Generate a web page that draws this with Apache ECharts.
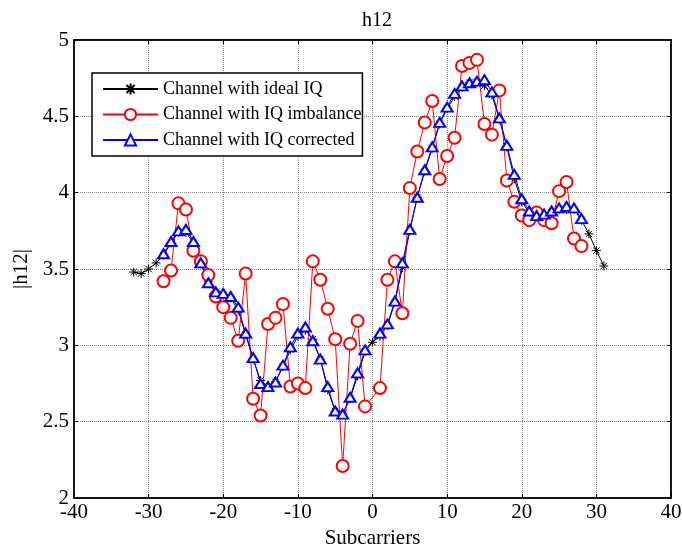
<!DOCTYPE html>
<html>
<head>
<meta charset="utf-8">
<script src="https://cdn.jsdelivr.net/npm/echarts@6/dist/echarts.min.js"></script>
<style>html,body{margin:0;padding:0;background:#fff;}#c{width:682px;height:548px;}</style>
</head>
<body>
<div id="c"></div>
<script>
const xIdeal = [-32,-31,-30,-29,-28,-27,-26,-25,-24,-23,-22,-21,-20,-19,-18,-17,-16,-15,-14,-13,-12,-11,-10,-9,-8,-7,-6,-5,-4,-3,-2,-1,0,1,2,3,4,5,6,7,8,9,10,11,12,13,14,15,16,17,18,19,20,21,22,23,24,25,26,27,28,29,30,31];
const yIdeal = [3.48,3.47,3.50,3.54,3.59,3.67,3.74,3.74,3.67,3.54,3.42,3.35,3.33,3.31,3.23,3.07,2.91,2.77,2.73,2.76,2.86,2.97,3.06,3.10,3.04,2.91,2.71,2.57,2.55,2.65,2.80,2.96,3.02,3.06,3.13,3.28,3.51,3.75,3.97,4.14,4.29,4.45,4.55,4.63,4.69,4.72,4.72,4.70,4.64,4.48,4.30,4.09,3.94,3.87,3.84,3.84,3.87,3.89,3.89,3.89,3.82,3.73,3.62,3.52];
const xUsed = [-28,-27,-26,-25,-24,-23,-22,-21,-20,-19,-18,-17,-16,-15,-14,-13,-12,-11,-10,-9,-8,-7,-6,-5,-4,-3,-2,-1,1,2,3,4,5,6,7,8,9,10,11,12,13,14,15,16,17,18,19,20,21,22,23,24,25,26,27,28];
const yImbalance = [3.42,3.49,3.93,3.89,3.62,3.55,3.46,3.32,3.25,3.18,3.03,3.47,2.65,2.54,3.14,3.18,3.27,2.73,2.75,2.72,3.55,3.43,3.24,3.04,2.21,3.01,3.16,2.60,2.72,3.43,3.55,3.21,4.03,4.27,4.46,4.60,4.09,4.24,4.36,4.83,4.85,4.87,4.45,4.38,4.67,4.08,3.94,3.85,3.82,3.87,3.82,3.80,4.01,4.07,3.70,3.65];
const yCorrected = [3.60,3.68,3.75,3.76,3.68,3.54,3.41,3.35,3.34,3.32,3.25,3.08,2.92,2.75,2.73,2.76,2.87,2.99,3.08,3.12,3.03,2.91,2.73,2.57,2.55,2.66,2.82,2.97,3.08,3.14,3.29,3.54,3.76,3.97,4.15,4.30,4.46,4.56,4.65,4.70,4.72,4.73,4.74,4.66,4.49,4.31,4.12,3.96,3.88,3.85,3.86,3.88,3.90,3.91,3.90,3.83];
const xTicks = [-40,-30,-20,-10,0,10,20,30,40];
const yTicks = [2,2.5,3,3.5,4,4.5,5];

const pair = (xs, ys) => xs.map((x, i) => [x, ys[i]]);
const FONT = '"Liberation Serif","Times New Roman",serif';
const star = 'path://M0,-5L0,5M-5,0L5,0M-3.6,-3.6L3.6,3.6M-3.6,3.6L3.6,-3.6';

const chart = echarts.init(document.getElementById('c'), null, {renderer: 'canvas'});
const baseAxis = {
  axisLine: {show: true, onZero: false, lineStyle: {color: '#000', width: 1.5}},
  axisTick: {show: true, inside: true, length: 4, lineStyle: {color: '#000'}},
};
chart.setOption({
  animation: false,
  backgroundColor: '#fff',
  title: {
    text: 'h12', left: 372, top: 6, textAlign: 'center',
    textStyle: {fontFamily: FONT, fontSize: 20, fontWeight: 'normal', color: '#000'}
  },
  grid: {left: 74, top: 40, width: 597, height: 458, outerBoundsMode: 'none', containLabel: false,
    show: true, borderColor: '#000', borderWidth: 1.5, backgroundColor: 'transparent'},
  legend: {
    orient: 'vertical', left: 92, top: 73,
    backgroundColor: '#fff', borderColor: '#000', borderWidth: 1.5,
    padding: [7, 1, 7, 10], itemGap: 7.5, itemWidth: 55, itemHeight: 14,
    textStyle: {fontFamily: FONT, fontSize: 18, color: '#000'},
    data: ['Channel with ideal IQ', 'Channel with IQ imbalance', 'Channel with IQ corrected']
  },
  xAxis: [Object.assign({}, baseAxis, {
    type: 'value', min: -40, max: 40, interval: 10, position: 'bottom',
    name: 'Subcarriers', nameLocation: 'middle', nameGap: 22,
    nameTextStyle: {fontFamily: FONT, fontSize: 21, color: '#000'},
    axisLabel: {fontFamily: FONT, fontSize: 21, color: '#000', margin: 4,
      formatter: v => xTicks.includes(v) ? String(v) : ''},
    splitLine: {show: true, lineStyle: {color: '#888', type: [1, 1], width: 1}}
  }), Object.assign({}, baseAxis, {
    type: 'value', min: -40, max: 40, interval: 10, position: 'top',
    axisLabel: {show: false}, splitLine: {show: false}
  })],
  yAxis: [Object.assign({}, baseAxis, {
    type: 'value', min: 2, max: 5, interval: 0.5, position: 'left',
    name: '|h12|', nameLocation: 'middle', nameGap: 33, nameRotate: 90,
    nameTextStyle: {fontFamily: FONT, fontSize: 21, color: '#000'},
    axisLabel: {fontFamily: FONT, fontSize: 21, color: '#000', margin: 5,
      formatter: v => yTicks.includes(v) ? String(v) : ''},
    splitLine: {show: true, lineStyle: {color: '#888', type: [1, 1], width: 1}}
  }), Object.assign({}, baseAxis, {
    type: 'value', min: 2, max: 5, interval: 0.5, position: 'right',
    axisLabel: {show: false}, splitLine: {show: false}
  })],
  series: [
    {
      name: 'Channel with ideal IQ', type: 'line', data: pair(xIdeal, yIdeal),
      symbol: star, symbolSize: 9, showAllSymbol: true,
      lineStyle: {color: '#000', width: 1},
      itemStyle: {color: '#000', borderColor: '#000', borderWidth: 1}
    },
    {
      name: 'Channel with IQ imbalance', type: 'line', data: pair(xUsed, yImbalance),
      symbol: 'emptyCircle', symbolSize: 12, showAllSymbol: true,
      lineStyle: {color: '#ff0000', width: 1},
      itemStyle: {color: '#ff0000', borderColor: '#ff0000', borderWidth: 1}
    },
    {
      name: 'Channel with IQ corrected', type: 'line', data: pair(xUsed, yCorrected),
      symbol: 'emptyTriangle', symbolSize: [11, 9], showAllSymbol: true,
      lineStyle: {color: '#0000ff', width: 1},
      itemStyle: {color: '#0000ff', borderColor: '#0000ff', borderWidth: 1}
    }
  ]
});
</script>
</body>
</html>
